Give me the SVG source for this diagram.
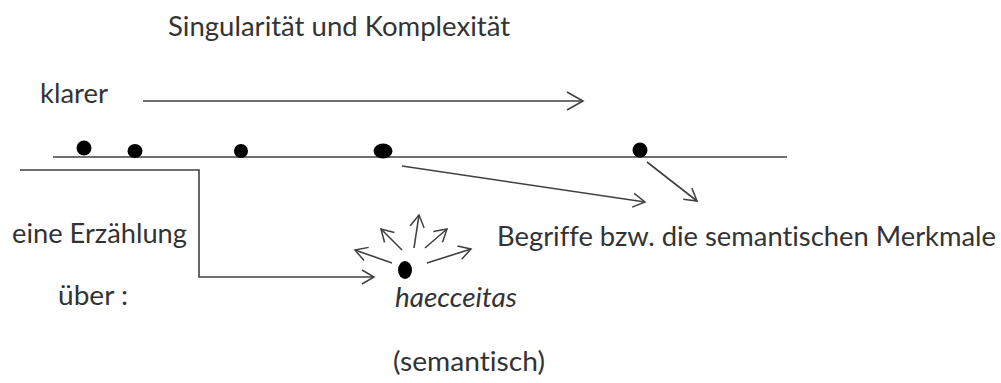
<svg xmlns="http://www.w3.org/2000/svg" width="1001" height="383" viewBox="0 0 1001 383">
<style>
.t{font-family:Lato,"Open Sans","Liberation Sans",sans-serif;font-size:27px;fill:#333;font-variant-ligatures:none;font-feature-settings:"liga" 0,"clig" 0}
.i{font-style:italic}
.ln{fill:none;stroke:#404040;stroke-width:1.6}
.dot{fill:#000}
</style>
<defs>
<marker id="ah" markerUnits="userSpaceOnUse" markerWidth="24" markerHeight="24" refX="0" refY="0" viewBox="-20 -12 24 24" orient="auto" overflow="visible">
<path d="M-16,-9 L0,0 L-16,9" fill="none" stroke="#404040" stroke-width="1.6"/>
</marker>
<marker id="as" markerUnits="userSpaceOnUse" markerWidth="20" markerHeight="20" refX="0" refY="0" viewBox="-16 -10 20 20" orient="auto" overflow="visible">
<path d="M-12,-7 L0,0 L-12,7" fill="none" stroke="#404040" stroke-width="1.5"/>
</marker>
</defs>
<rect width="1001" height="383" fill="#fff"/>
<g id="title"><text class="t" x="168" y="36" textLength="342" lengthAdjust="spacingAndGlyphs">Singularität und Komplexität</text></g>
<g id="klarer"><text class="t" x="40" y="103" textLength="68" lengthAdjust="spacingAndGlyphs">klarer</text></g>
<g id="erzaehlung"><text class="t" x="12" y="243" textLength="175" lengthAdjust="spacingAndGlyphs">eine Erzählung</text></g>
<g id="ueber"><text class="t" x="58" y="305" textLength="70" lengthAdjust="spacingAndGlyphs">über :</text></g>
<g id="haecceitas"><text class="t i" x="395" y="307" textLength="122" lengthAdjust="spacingAndGlyphs">haecceitas</text></g>
<g id="semantisch"><text class="t" x="393" y="371" textLength="152" lengthAdjust="spacingAndGlyphs">(semantisch)</text></g>
<g id="begriffe"><text class="t" x="497" y="246" textLength="499" lengthAdjust="spacingAndGlyphs">Begriffe bzw. die semantischen Merkmale</text></g>
<g id="timeline">
<line class="ln" x1="53" y1="157" x2="787" y2="157"/>
</g>
<g id="points">
<ellipse class="dot" cx="84" cy="148" rx="7.5" ry="7.5"/>
<ellipse class="dot" cx="135" cy="151" rx="7.5" ry="7"/>
<ellipse class="dot" cx="241" cy="151" rx="7" ry="7"/>
<ellipse class="dot" cx="383" cy="151" rx="9.5" ry="7.5"/>
<ellipse class="dot" cx="640" cy="150" rx="7.5" ry="7.5"/>
<ellipse class="dot" cx="405" cy="270" rx="7" ry="9"/>
</g>
<g id="connectors">
<line class="ln" x1="143" y1="101" x2="583" y2="101" marker-end="url(#ah)"/>
<polyline class="ln" points="20,170 199,170 199,277 374,277" marker-end="url(#as)"/>
<line class="ln" x1="402" y1="166" x2="645" y2="202" marker-end="url(#as)"/>
<line class="ln" x1="647" y1="162" x2="697" y2="201" marker-end="url(#as)"/>
<line class="ln" x1="392" y1="263" x2="355" y2="250" marker-end="url(#as)"/>
<line class="ln" x1="402" y1="250" x2="381" y2="229" marker-end="url(#as)"/>
<line class="ln" x1="414" y1="248" x2="419" y2="215" marker-end="url(#as)"/>
<line class="ln" x1="425" y1="248" x2="447" y2="229" marker-end="url(#as)"/>
<line class="ln" x1="427" y1="263" x2="471" y2="249" marker-end="url(#as)"/>
</g>
</svg>
